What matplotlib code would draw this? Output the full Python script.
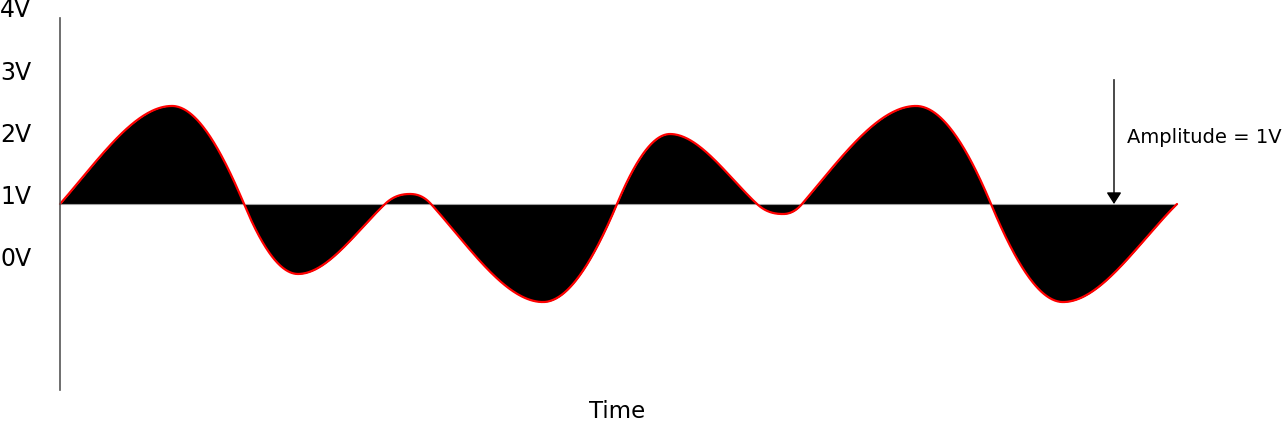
import numpy as np
import matplotlib.pyplot as plt

# key points of the waveform: time (ms) and voltage (V)
t_pts = [0.0, 11.2, 18.4, 23.8, 32.5, 35.0, 37.1, 48.3, 55.7,
         61.0, 69.7, 72.3, 74.2, 85.6, 93.1, 100.3, 111.7]
v_pts = [1.0, 2.576, 1.0, -0.125, 1.0, 1.161, 1.0, -0.576, 1.0,
         2.125, 1.0, 0.839, 1.0, 2.576, 1.0, -0.576, 1.0]

baseline = 1.0
volt_labels = ["4V", "3V", "2V", "1V", "0V"]
volt_values = [4, 3, 2, 1, 0]
amp_time = 105.4
amp_top = 3.0
amp_text = "Amplitude = 1V"


def smooth(ts, vs, n=80):
    # cubic Hermite: flat at the peaks/troughs, steep through the baseline
    ts, vs = np.asarray(ts), np.asarray(vs)
    h = np.diff(ts)
    sec = np.diff(vs) / h
    d = np.zeros(len(ts))
    for i in range(len(ts)):
        if abs(vs[i] - baseline) > 1e-9:
            continue
        if i == 0:
            d[i] = 1.3 * sec[0]
        elif i == len(ts) - 1:
            d[i] = 1.15 * sec[-1]
        else:
            a, b = sec[i - 1], sec[i]
            d[i] = 1.8 * 2 * a * b / (a + b)
    xs, ys = [], []
    for i in range(len(ts) - 1):
        s = np.linspace(0, 1, n)
        h00 = 2 * s**3 - 3 * s**2 + 1
        h10 = s**3 - 2 * s**2 + s
        h01 = -2 * s**3 + 3 * s**2
        h11 = s**3 - s**2
        y = h00 * vs[i] + h10 * h[i] * d[i] + h01 * vs[i + 1] + h11 * h[i] * d[i + 1]
        xs.append(ts[i] + h[i] * s)
        ys.append(y)
    return np.concatenate(xs), np.concatenate(ys)


t, v = smooth(t_pts, v_pts)

fig = plt.figure(figsize=(12.84, 4.22), dpi=100)
ax = fig.add_axes([0, 0, 1, 1])
ax.set_xlim(-6, 122.4)
ax.set_ylim(1 - 218 / 62.2, 1 + 204 / 62.2)
ax.axis("off")

ax.fill_between(t, v, baseline, color="black", lw=0)
ax.plot([t_pts[0], t_pts[-1]], [baseline, baseline], color="#a0a0a0", lw=0.8)
ax.plot(t, v, color="red", lw=1.6, solid_capstyle="round")
ax.plot([0, 0], [-1.99, 3.99], color="#555555", lw=1.2)

for lab, val in zip(volt_labels, volt_values):
    ax.text(-6, val, lab, fontsize=17, va="baseline", ha="left", color="black")

ax.annotate("", xy=(amp_time, baseline), xytext=(amp_time, amp_top),
            arrowprops=dict(arrowstyle="-|>,head_length=0.7,head_width=0.45",
                            color="black", lw=1.0, shrinkA=0, shrinkB=0))
ax.text(106.7, 1.98, amp_text, fontsize=14, va="baseline", ha="left")
ax.text(55.7, -2.34, "Time", fontsize=16.5, va="center", ha="center")

fig.savefig("out.png", dpi=100)
